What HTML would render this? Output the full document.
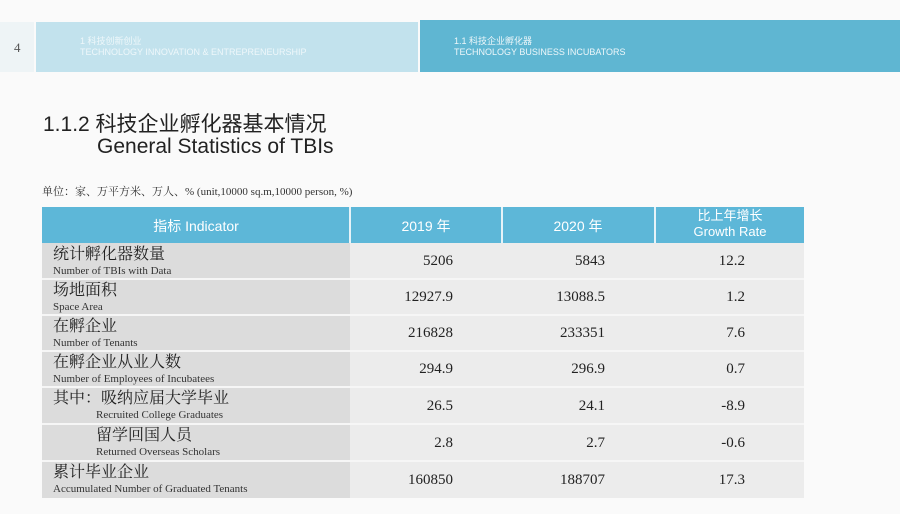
<!DOCTYPE html>
<html><head><meta charset="utf-8"><style>
body{margin:0;width:900px;height:514px;background:#fafafa;position:relative;overflow:hidden;font-family:"Liberation Serif","Noto Serif CJK SC",serif;}
.a{position:absolute;white-space:nowrap}
.hd{font-family:"Liberation Sans","Noto Sans CJK SC",sans-serif;color:#fff;}
.c{position:absolute;}
.n{position:absolute;font-size:15px;color:#222;text-align:right;line-height:18px}
.cn{font-size:16px;color:#222;line-height:18px}
.en{font-size:11px;color:#333;line-height:13px}
</style></head><body>
<div class="c" style="left:0;top:22px;width:34px;height:50px;background:#eef4f6"></div>
<div class="a" style="left:14px;top:40px;font-size:13px;color:#555">4</div>
<div class="c" style="left:36px;top:22px;width:382px;height:50px;background:#c2e2ed"></div>
<div class="c" style="left:420px;top:20px;width:480px;height:52px;background:#5fb6d2"></div>
<div class="a hd" style="left:80px;top:36px;font-size:9px;line-height:11px;color:#eef7fa">1 科技创新创业<br>TECHNOLOGY INNOVATION &amp; ENTREPRENEURSHIP</div>
<div class="a hd" style="left:454px;top:36px;font-size:9px;line-height:11px;color:#eef7fa">1.1 科技企业孵化器<br>TECHNOLOGY BUSINESS INCUBATORS</div>
<div class="a" style="left:43px;top:108px;font-size:21px;color:#222;font-family:'Liberation Sans','Noto Sans CJK SC',sans-serif">1.1.2 科技企业孵化器基本情况</div>
<div class="a" style="left:97px;top:135px;font-size:21px;color:#222;font-family:'Liberation Sans','Noto Sans CJK SC',sans-serif">General Statistics of TBIs</div>
<div class="a" style="left:42px;top:183px;font-size:11px;color:#333">单位：家、万平方米、万人、% (unit,10000 sq.m,10000 person, %)</div>

<div class="c" style="left:42px;top:207px;width:762px;height:36px;background:#5db7d8"></div>
<div class="c" style="left:349px;top:207px;width:2px;height:36px;background:#e6f3f8"></div>
<div class="c" style="left:501px;top:207px;width:2px;height:36px;background:#e6f3f8"></div>
<div class="c" style="left:654px;top:207px;width:2px;height:36px;background:#e6f3f8"></div>
<div class="a hd" style="left:42px;top:216px;width:308px;text-align:center;font-size:14px">指标 Indicator</div>
<div class="a hd" style="left:350px;top:216px;width:152px;text-align:center;font-size:14px">2019 年</div>
<div class="a hd" style="left:502px;top:216px;width:152px;text-align:center;font-size:14px">2020 年</div>
<div class="a hd" style="left:655px;top:208px;width:150px;text-align:center;font-size:13px;line-height:16px">比上年增长<br>Growth Rate</div>

<div class="c" style="left:42px;top:243px;width:308px;height:255px;background:#dcdcdc"></div>
<div class="c" style="left:350px;top:243px;width:454px;height:255px;background:#ececec"></div>
<div id="rows"></div>
<script>
var R=[["统计孵化器数量","Number of TBIs with Data","5206","5843","12.2",0],
["场地面积","Space Area","12927.9","13088.5","1.2",0],
["在孵企业","Number of Tenants","216828","233351","7.6",0],
["在孵企业从业人数","Number of Employees of Incubatees","294.9","296.9","0.7",0],
["其中：吸纳应届大学毕业","Recruited College Graduates","26.5","24.1","-8.9",1],
["留学回国人员","Returned Overseas Scholars","2.8","2.7","-0.6",2],
["累计毕业企业","Accumulated Number of Graduated Tenants","160850","188707","17.3",0]];
var T=[243,279,315,351,387,424,461,498],h="";
for(var i=0;i<7;i++){var y=T[i],H=T[i+1]-y,r=R[i];
if(i>0)h+='<div class="c" style="left:42px;top:'+(y-1)+'px;width:762px;height:2px;background:#f6f6f6"></div>';
var cx=r[5]==2?96:53,ex=r[5]?96:53;
h+='<div class="a cn" style="left:'+cx+'px;top:'+(y+3)+'px">'+r[0]+'</div>';
h+='<div class="a en" style="left:'+ex+'px;top:'+(y+22)+'px">'+r[1]+'</div>';
var ny=y+H/2-9;
h+='<div class="n" style="left:350px;width:103px;top:'+ny+'px">'+r[2]+'</div>';
h+='<div class="n" style="left:500px;width:105px;top:'+ny+'px">'+r[3]+'</div>';
h+='<div class="n" style="left:655px;width:90px;top:'+ny+'px">'+r[4]+'</div>';}
document.getElementById('rows').innerHTML=h;
</script>
</body></html>
